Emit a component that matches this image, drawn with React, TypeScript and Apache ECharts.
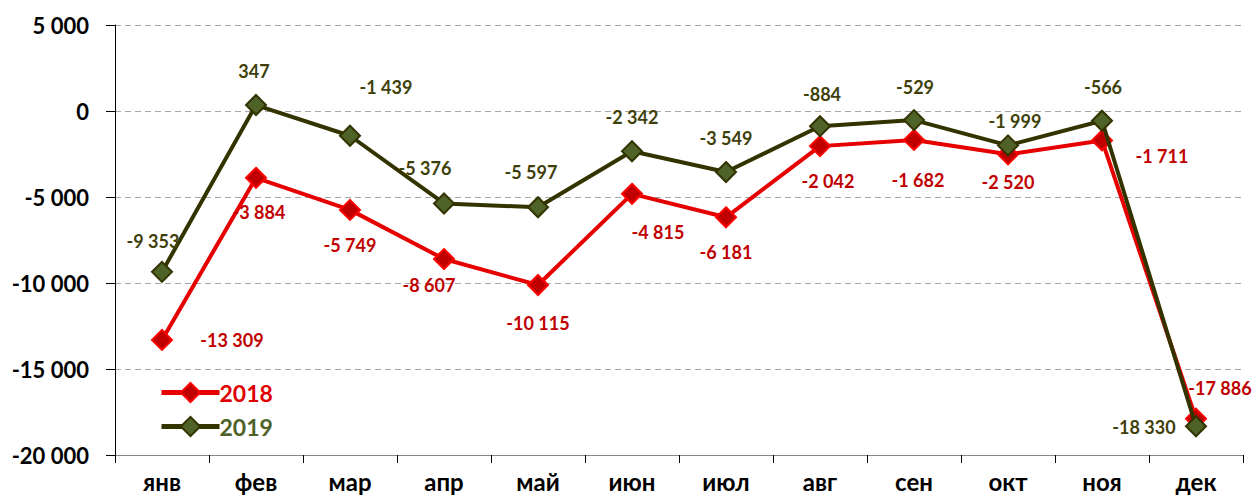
import React, { useEffect, useRef } from "react";
import * as echarts from "echarts";

const months = ["янв", "фев", "мар", "апр", "май", "июн", "июл", "авг", "сен", "окт", "ноя", "дек"];
const values2018 = [-13309, -3884, -5749, -8607, -10115, -4815, -6181, -2042, -1682, -2520, -1711, -17886];
const values2019 = [-9353, 347, -1439, -5376, -5597, -2342, -3549, -884, -529, -1999, -566, -18330];
const yTicks = { min: -20000, max: 5000, interval: 5000 };

// label offsets (px) relative to each point
const offsets2018 = [[70, 0], [3, 34], [0, 35], [-15, 26], [0, 38], [26, 38], [0, 35], [8, 35], [4, 40], [0, 28], [60, 16], [24, -31]];
const offsets2019 = [[-9, -31], [-2, -34], [36, -49], [-19, -35], [-7, -35], [0, -34], [0, -34], [2, -32], [1, -33], [7, -24], [1, -34], [-52, 1]];

const fmt = (v: number) => {
  const s = Math.abs(v).toString().replace(/\B(?=(\d{3})+(?!\d))/g, " ");
  return (v < 0 ? "-" : "") + s;
};

const FONT = "Lato";

export default function App() {
  const ref = useRef<HTMLDivElement>(null);
  useEffect(() => {
    document.body.style.margin = "0";
    const chart = echarts.init(ref.current!, undefined, { renderer: "svg" });
    const mk = (vals: number[], offs: number[][], color: string) =>
      vals.map((v, i) => ({
        value: v,
        label: { show: true, position: "inside", offset: offs[i], color, formatter: (p: any) => fmt(p.value) },
      }));
    chart.setOption({
      animation: false,
      textStyle: { fontFamily: FONT },
      grid: { left: 115, right: 9, top: 25, bottom: 40 },
      legend: {
        orient: "vertical",
        left: 154,
        top: 376,
        itemWidth: 58,
        itemHeight: 24,
        itemGap: 11,
        lineStyle: { width: 5 },
        data: [
          { name: "2018", textStyle: { color: "#E00000" } },
          { name: "2019", textStyle: { color: "#4F6228" } },
        ],
        textStyle: { fontSize: 23, fontWeight: "bold", fontFamily: FONT, padding: [0, 0, 0, -5] },
      },
      xAxis: [
        {
          type: "category",
          data: months,
          position: "bottom",
          axisLine: { show: false },
          axisTick: { show: false },
          axisLabel: { fontSize: 24, fontWeight: "bold", color: "#000", fontFamily: FONT, margin: 14 },
        },
        {
          type: "category",
          data: months,
          position: "bottom",
          axisLine: { show: true, onZero: true, lineStyle: { color: "#868686", width: 1 } },
          axisTick: { show: true, length: 8, lineStyle: { color: "#000" } },
          axisLabel: { show: false },
        },
      ],
      yAxis: {
        type: "value",
        min: yTicks.min,
        max: yTicks.max,
        interval: yTicks.interval,
        axisLine: { show: true, lineStyle: { color: "#000", width: 1 } },
        axisTick: { show: true, length: 9, lineStyle: { color: "#000" } },
        axisLabel: { fontSize: 22, fontWeight: "bold", color: "#000", fontFamily: FONT, margin: 26, formatter: (v: number) => fmt(v) },
        splitLine: { show: true, lineStyle: { color: "#A6A6A6", type: [6, 4], width: 1 } },
      },
      series: [
        {
          name: "2018",
          type: "line",
          xAxisIndex: 0,
          data: mk(values2018, offsets2018, "#C00000"),
          symbol: "diamond",
          symbolSize: 20,
          lineStyle: { color: "#E60000", width: 4 },
          itemStyle: { color: "#C00000", borderColor: "#FF0000", borderWidth: 2 },
          label: { fontSize: 18, fontWeight: "bold", fontFamily: FONT },
          z: 3,
        },
        {
          name: "2019",
          type: "line",
          xAxisIndex: 0,
          data: mk(values2019, offsets2019, "#3F3F0A"),
          symbol: "diamond",
          symbolSize: 20,
          lineStyle: { color: "#333300", width: 4 },
          itemStyle: { color: "#4F6228", borderColor: "#333300", borderWidth: 2 },
          label: { fontSize: 18, fontWeight: "bold", fontFamily: FONT },
          z: 4,
        },
      ],
    });
    return () => chart.dispose();
  }, []);
  return <div ref={ref} style={{ width: 1252, height: 495 }} />;
}
